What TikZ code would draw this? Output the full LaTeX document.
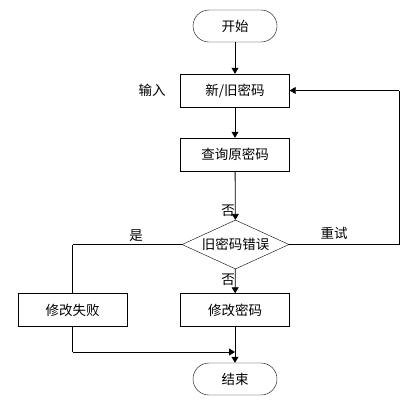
\documentclass[tikz,border=0pt]{standalone}
\usepackage{fontspec}
\setmainfont{Noto Sans CJK SC}
\usetikzlibrary{shapes.geometric,arrows.meta}
\begin{document}
\begin{tikzpicture}[x=1pt,y=-1pt,
  every node/.style={font=\fontsize{13.5}{15}\selectfont},
  term/.style={draw,rounded corners=16pt,minimum width=84pt,minimum height=32pt,inner sep=0pt},
  proc/.style={draw,minimum width=109pt,minimum height=33pt,inner sep=0pt},
  dec/.style={draw,diamond,aspect=2.18,minimum width=107pt,minimum height=49pt,inner sep=0pt},
  lbl/.style={inner sep=0pt},
  conn/.style={draw,line width=0.8pt,-{Triangle[width=7pt,length=6pt]}},
  plain/.style={draw,line width=0.8pt}]
\useasboundingbox (0,0) rectangle (419,400);
\node[term] (start) at (235,26) {开始};
\node[proc] (input) at (235,90.5) {新/旧密码};
\node[lbl] (inlbl) at (152,90) {输入};
\node[proc] (query) at (235,154.5) {查询原密码};
\node[dec] (chk) at (235.5,244.5) {旧密码错误};
\node[proc] (fail) at (72.5,310) {修改失败};
\node[proc] (ok) at (235,310) {修改密码};
\node[term] (end) at (235,379) {结束};
\node[lbl] (no1) at (228,211) {否};
\node[lbl] (no2) at (228,280) {否};
\node[lbl] (yes) at (136,236) {是};
\node[lbl] (retry) at (334,233) {重试};
\coordinate (rt) at (399,244.5);
\coordinate (rtop) at (399,90.5);
\coordinate (lt) at (72.5,244.5);
\coordinate (mg) at (72.5,352);
\coordinate (mgE) at (235,352);
\path[conn] (start) -- (input);
\path[conn] (input) -- (query);
\path[conn] (query) -- (chk);
\path[plain] (chk.east) -- (rt) -- (rtop);
\path[conn] (rtop) -- (input.east);
\path[plain] (chk.west) -- (lt);
\path[plain] (lt) -- (fail.north);
\path[conn] (chk) -- (ok);
\path[plain] (fail.south) -- (mg);
\path[conn] (mg) -- (mgE);
\path[conn] (ok) -- (end);
\end{tikzpicture}
\end{document}
